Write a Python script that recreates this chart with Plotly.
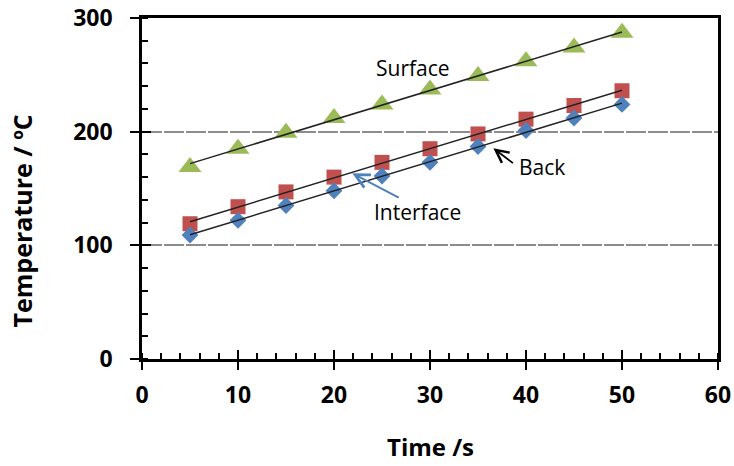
import numpy as np
import plotly.graph_objects as go

time_s = [5, 10, 15, 20, 25, 30, 35, 40, 45, 50]
surface = [169, 185, 199, 212, 224, 237, 249, 262, 274, 287]
interface = [119, 134, 147, 160, 173, 185, 198, 211, 223, 236]
back = [109, 122, 135, 148, 161, 173, 187, 201, 212, 224]

x_ticks = [0, 10, 20, 30, 40, 50, 60]
y_ticks = [0, 100, 200, 300]

GREEN = "#9BBB59"
RED = "#C0504D"
BLUE = "#4F81BD"
FONT = "Open Sans"

fig = go.Figure()

series = [
    ("Surface", surface, GREEN, "triangle-up", 20),
    ("Interface", interface, RED, "square", 15),
    ("Back", back, BLUE, "diamond", 13),
]

for name, vals, col, sym, sz in series:
    fig.add_trace(go.Scatter(x=time_s, y=vals, mode="markers", name=name,
                             marker=dict(color=col, symbol=sym, size=sz, line=dict(width=0)),
                             showlegend=False))

# linear trendlines fitted to each series
for name, vals, col, sym, sz in series:
    k, b = np.polyfit(time_s, vals, 1)
    xs = [time_s[0], time_s[-1]]
    fig.add_trace(go.Scatter(x=xs, y=[k * v + b for v in xs], mode="lines",
                             line=dict(color="#222222", width=1.5),
                             showlegend=False, hoverinfo="skip"))

# invisible trace for overlay axes (inner half of crossing major ticks)
fig.add_trace(go.Scatter(x=[None], y=[None], xaxis="x2", yaxis="y2", showlegend=False))

tickfont = dict(family=FONT, size=23, color="black", weight="bold")

fig.update_layout(
    width=734, height=466,
    margin=dict(l=142, r=16, t=18, b=107, autoexpand=False),
    paper_bgcolor="white", plot_bgcolor="white",
    xaxis=dict(range=[0, 60], tickvals=x_ticks, ticks="outside", ticklen=8, tickwidth=2,
               tickcolor="black", showline=True, linecolor="black", linewidth=2.5,
               mirror=True, showgrid=False, zeroline=False, tickfont=tickfont,
               ticklabelstandoff=6, automargin=False, ticklabeloverflow="allow",
               minor=dict(dtick=2, ticks="inside", ticklen=6, tickwidth=2,
                          tickcolor="black", showgrid=False)),
    yaxis=dict(range=[0, 300], tickvals=y_ticks, ticks="outside", ticklen=9, tickwidth=2,
               tickcolor="black", showline=True, linecolor="black", linewidth=2.5,
               mirror=True, showgrid=True, gridcolor="#8c8c8c", gridwidth=2,
               griddash="20px,2px", zeroline=False, tickfont=tickfont,
               ticklabelstandoff=13, automargin=False, ticklabeloverflow="allow",
               minor=dict(dtick=20, ticks="inside", ticklen=6, tickwidth=2,
                          tickcolor="black", showgrid=False)),
    xaxis2=dict(range=[0, 60], overlaying="x", anchor="y2", tickvals=x_ticks,
                ticks="inside", ticklen=9, tickwidth=2, tickcolor="black", automargin=False,
                showticklabels=False, showline=False, showgrid=False, zeroline=False),
    yaxis2=dict(range=[0, 300], overlaying="y", anchor="x2", tickvals=y_ticks,
                ticks="inside", ticklen=9, tickwidth=2, tickcolor="black", automargin=False,
                showticklabels=False, showline=False, showgrid=False, zeroline=False),
    showlegend=False,
)

ann_font = dict(family=FONT, size=21, color="black")
fig.add_annotation(x=28.2, y=256, text="Surface", showarrow=False, font=ann_font)
fig.add_annotation(x=28.7, y=129, text="Interface", showarrow=False, font=ann_font)
fig.add_annotation(x=41.7, y=168.5, text="Back", showarrow=False, font=ann_font)

# arrows
fig.add_annotation(x=21.9, y=163.4, ax=26.9, ay=141.3, xref="x", yref="y",
                   axref="x", ayref="y", text="", showarrow=True,
                   arrowhead=5, arrowsize=1.4, arrowwidth=2, arrowcolor=BLUE)
fig.add_annotation(x=36.6, y=185.4, ax=38.8, ay=171.3, xref="x", yref="y",
                   axref="x", ayref="y", text="", showarrow=True,
                   arrowhead=5, arrowsize=1.4, arrowwidth=1.8, arrowcolor="black")

# axis titles
fig.add_annotation(x=-0.208, y=0.404, xref="paper", yref="paper", text="Temperature / ºC",
                   textangle=-90, showarrow=False, xanchor="center", yanchor="middle",
                   font=dict(family=FONT, size=25, color="black", weight="bold"))
fig.add_annotation(x=0.5, y=-0.258, xref="paper", yref="paper", text="Time /s",
                   showarrow=False, xanchor="center", yanchor="middle",
                   font=dict(family=FONT, size=24, color="black", weight="bold"))

# remove the default 8px page margin so the figure fills the window exactly
fig.write_html("out.html", config={"displayModeBar": False},
               post_script="document.body.style.margin='0px';")
